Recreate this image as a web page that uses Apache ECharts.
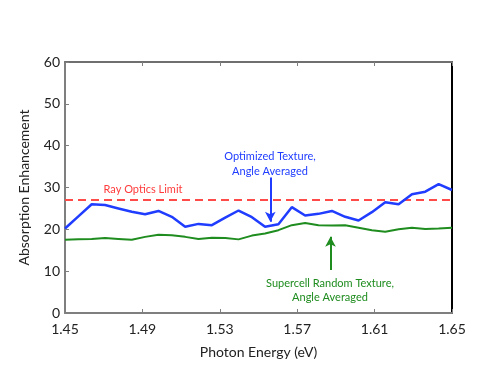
<!DOCTYPE html>
<html>
<head>
<meta charset="utf-8">
<script src="https://cdn.jsdelivr.net/npm/echarts@6/dist/echarts.min.js"></script>
<style>
  html, body { margin: 0; padding: 0; background: #fff; }
  #chart { width: 500px; height: 375px; }
</style>
</head>
<body>
<div id="chart"></div>
<script>
// photon energies (eV) of the samples
const energies = [1.45, 1.4569, 1.4638, 1.4707, 1.4776, 1.4845, 1.4914, 1.4983, 1.5052, 1.5121,
  1.519, 1.5259, 1.5328, 1.5397, 1.5466, 1.5534, 1.5603, 1.5672, 1.5741, 1.581,
  1.5879, 1.5948, 1.6017, 1.6086, 1.6155, 1.6224, 1.6293, 1.6362, 1.6431, 1.65];
// optimized texture, angle averaged
const optimized = [20.2, 23.1, 26.0, 25.8, 25.0, 24.2, 23.6, 24.4, 23.0, 20.6,
  21.3, 21.0, 22.8, 24.5, 22.9, 20.6, 21.2, 25.3, 23.3, 23.7,
  24.4, 23.0, 22.1, 24.1, 26.5, 26.0, 28.4, 29.0, 30.8, 29.4];
// supercell random texture, angle averaged
const supercell = [17.5, 17.6, 17.7, 17.9, 17.7, 17.5, 18.2, 18.7, 18.6, 18.2,
  17.7, 18.0, 17.9, 17.6, 18.5, 19.0, 19.8, 21.0, 21.5, 21.0,
  20.9, 21.0, 20.4, 19.8, 19.4, 20.0, 20.4, 20.1, 20.2, 20.4];
const rayOpticsLimit = 27;
const xTicks = [1.45, 1.49, 1.53, 1.57, 1.61, 1.65];

const font = "Lato, 'Open Sans', sans-serif";
const chart = echarts.init(document.getElementById("chart"));

function zip(xs, ys) {
  return xs.map((x, i) => [x, ys[i]]);
}

const option = {
  animation: false,
  grid: { left: 65, right: 48, top: 62, bottom: 62 },
  xAxis: [
    {
      type: "value",
      min: 1.45,
      max: 1.65,
      interval: 0.04,
      name: "Photon Energy (eV)",
      nameLocation: "middle",
      nameGap: 32,
      nameTextStyle: { fontFamily: font, fontSize: 14, color: "#222" },
      axisLine: { onZero: false, lineStyle: { color: "#7f7f7f", width: 2 } },
      axisTick: { inside: true, length: 4, lineStyle: { color: "#7f7f7f" } },
      axisLabel: {
        margin: 9,
        fontFamily: font,
        fontSize: 14,
        color: "#222",
        formatter: v => xTicks.find(t => Math.abs(t - v) < 1e-6)?.toFixed(2) ?? ""
      },
      splitLine: { show: false }
    },
    {
      type: "value",
      position: "top",
      min: 1.45,
      max: 1.65,
      interval: 0.04,
      axisLine: { show: true, onZero: false, lineStyle: { color: "#6f6f6f", width: 2 } },
      axisTick: { show: true, inside: true, length: 4, lineStyle: { color: "#7f7f7f" } },
      axisLabel: { show: false },
      splitLine: { show: false }
    }
  ],
  yAxis: [
    {
      type: "value",
      min: 0,
      max: 60,
      interval: 10,
      name: "Absorption Enhancement",
      nameLocation: "middle",
      nameGap: 34,
      nameTextStyle: { fontFamily: font, fontSize: 14, color: "#222" },
      axisLine: { show: true, onZero: false, lineStyle: { color: "#7f7f7f", width: 2 } },
      axisTick: { show: true, inside: true, length: 4, lineStyle: { color: "#7f7f7f" } },
      axisLabel: { margin: 5, fontFamily: font, fontSize: 14, color: "#222" },
      splitLine: { show: false }
    },
    {
      type: "value",
      position: "right",
      min: 0,
      max: 60,
      interval: 10,
      axisLine: { show: true, onZero: false, lineStyle: { color: "#000", width: 2 } },
      axisTick: { show: false },
      axisLabel: { show: false },
      splitLine: { show: false }
    }
  ],
  series: [
    {
      name: "Ray Optics Limit",
      type: "line",
      data: [[1.45, rayOpticsLimit], [1.65, rayOpticsLimit]],
      symbol: "none",
      lineStyle: { color: "#ff4a4a", width: 2, type: [8, 5] },
      z: 1
    },
    {
      name: "Supercell Random Texture",
      type: "line",
      data: zip(energies, supercell),
      symbol: "none",
      lineStyle: { color: "#1e8c1e", width: 2 },
      markLine: {
        silent: true,
        symbol: ["none", "arrow"],
        symbolSize: [8, 10],
        label: { show: false },
        lineStyle: { color: "#1e8c1e", width: 2, type: "solid" },
        data: [[{ coord: [1.5872, 10.3] }, { coord: [1.5872, 18.2] }]]
      },
      z: 2
    },
    {
      name: "Optimized Texture",
      type: "line",
      data: zip(energies, optimized),
      symbol: "none",
      lineStyle: { color: "#1f3cff", width: 2.5 },
      markLine: {
        silent: true,
        symbol: ["none", "arrow"],
        symbolSize: [8, 10],
        label: { show: false },
        lineStyle: { color: "#1f3cff", width: 2, type: "solid" },
        data: [[{ coord: [1.5561, 32.4] }, { coord: [1.5561, 21.8] }]]
      },
      z: 3
    }
  ],
  graphic: [
    {
      type: "text",
      x: 143, y: 189,
      style: {
        text: "Ray Optics Limit",
        fill: "#ff3b3b",
        font: "11px " + font,
        align: "center",
        verticalAlign: "middle"
      }
    },
    {
      type: "text",
      x: 270, y: 164,
      style: {
        text: "Optimized Texture,\nAngle Averaged",
        fill: "#1f3cff",
        font: "11px " + font,
        lineHeight: 15,
        align: "center",
        verticalAlign: "middle"
      }
    },
    {
      type: "text",
      x: 330, y: 290,
      style: {
        text: "Supercell Random Texture,\nAngle Averaged",
        fill: "#1e8c1e",
        font: "11px " + font,
        lineHeight: 14,
        align: "center",
        verticalAlign: "middle"
      }
    }
  ]
};

chart.setOption(option);
</script>
</body>
</html>
